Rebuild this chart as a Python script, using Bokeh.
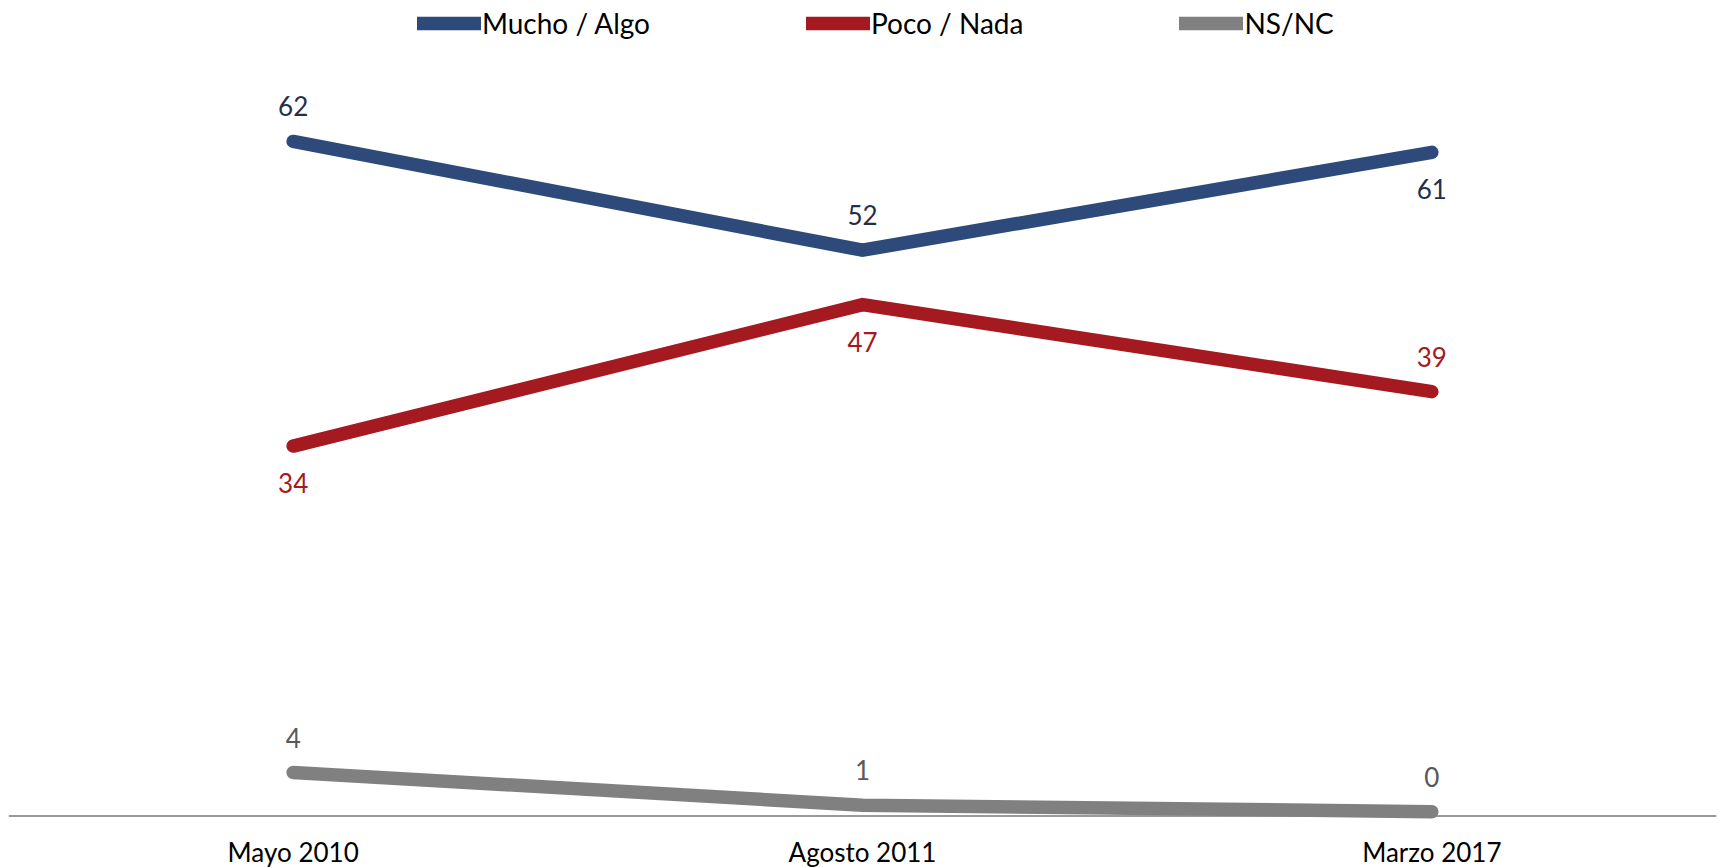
from bokeh.plotting import figure
from bokeh.models import Range1d, FactorRange, Span, Legend, LegendItem, ColumnDataSource
from bokeh.core.properties import value
from bokeh.embed import file_html
from bokeh.resources import INLINE

categories = ["Mayo 2010", "Agosto 2011", "Marzo 2017"]
series_names = ["Mucho / Algo", "Poco / Nada", "NS/NC"]
mucho = [62, 52, 61]
poco = [34, 47, 39]
nsnc = [4, 1, 0.4]
mucho_pos = ["above", "above", "below"]
poco_pos = ["below", "below", "above"]
nsnc_pos = ["above", "above", "above"]

line_colors = ["#2E4A7B", "#A51920", "#808080"]
label_colors = ["#1F2F4E", "#A51920", "#595959"]
FONT = "Lato"

W, H = 1719, 867
p = figure(x_range=FactorRange(*categories), y_range=Range1d(-4.73, 74.95),
           width=W, height=H, output_backend="svg", toolbar_location=None,
           min_border=0, min_border_left=8, min_border_right=3,
           x_axis_location=None, y_axis_location=None, outline_line_color=None)
p.xgrid.visible = False
p.ygrid.visible = False

p.add_layout(Span(location=0, dimension="width", line_color="#9A9A9A", line_width=2, level="underlay"))

renderers = []
for vals, pos, lc, tc in zip([mucho, poco, nsnc], [mucho_pos, poco_pos, nsnc_pos], line_colors, label_colors):
    src = ColumnDataSource(dict(x=categories, y=vals, lab=[str(int(round(v))) for v in vals],
                                off=[-35 if q == "above" else 37 for q in pos]))
    r = p.line("x", "y", source=src, line_color=lc, line_width=13.5, line_cap="round", line_join="miter")
    p.text("x", "y", text="lab", source=src, y_offset="off", text_align="center", text_baseline="middle",
           text_font=value(FONT), text_font_size="26px", text_color=tc)
    renderers.append(r)

# category labels under the baseline
p.text(x=categories, y=[0] * len(categories), text=categories, y_offset=36, text_align="center",
       text_baseline="middle", text_font=value(FONT), text_font_size="26px", text_color="#000000")

legend = Legend(items=[LegendItem(label=n, renderers=[r]) for n, r in zip(series_names, renderers)],
                orientation="horizontal", location=(409, H - 4.5 - 36), label_standoff=1, glyph_width=64,
                glyph_height=36, label_height=36, spacing=156, padding=0, margin=0, border_line_color=None,
                background_fill_alpha=0, label_text_font=FONT,
                label_text_font_size="28px", label_text_color="#000000", label_text_baseline="middle")
p.add_layout(legend)

open("out.html", "w").write(file_html(p, INLINE))
